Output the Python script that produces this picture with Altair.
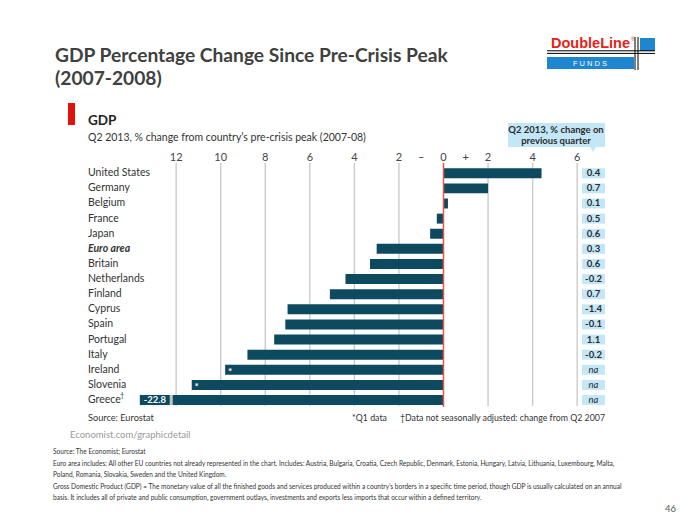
import altair as alt
import pandas as pd

# ---------------- data ----------------
countries = ["United States", "Germany", "Belgium", "France", "Japan", "Euro area",
             "Britain", "Netherlands", "Finland", "Cyprus", "Spain", "Portugal",
             "Italy", "Ireland", "Slovenia", "Greece"]
change_since_peak = [4.4, 2.0, 0.2, -0.3, -0.6, -3.0, -3.3, -4.4, -5.1, -7.0,
                     -7.1, -7.6, -8.8, -9.8, -11.3, -22.8]
quarter_change = ["0.4", "0.7", "0.1", "0.5", "0.6", "0.3", "0.6", "-0.2", "0.7",
                  "-1.4", "-0.1", "1.1", "-0.2", "na", "na", "na"]
q1_only = ["Ireland", "Slovenia"]
tick_values = [-12, -10, -8, -6, -4, -2, -1, 0, 1, 2, 4, 6]
tick_labels = ["12", "10", "8", "6", "4", "2", "–", "0", "+", "2", "4", "6"]
grid_values = [-12, -10, -8, -6, -4, -2, 2, 4, 6]

df = pd.DataFrame({"country": countries, "change": change_since_peak,
                   "q": quarter_change})
df["q1"] = df["country"].isin(q1_only)
df["lab"] = df["change"].map(lambda v: f"{v:.1f}")
ticks = pd.DataFrame({"v": tick_values, "lab": tick_labels})
grid = pd.DataFrame({"v": grid_values})
zero = pd.DataFrame({"v": [0]})
one = pd.DataFrame({"k": [0]})

FONT = "Lato"
TXT = "#333333"
BAR = "#0d4a5f"
LB = "#c3e7f7"

PX0, PPU = 443.5, 22.28
X = alt.Scale(domain=[-PX0 / PPU, (700 - PX0) / PPU], range=[0, 700], nice=False, zero=False)
Y = alt.Scale(domain=countries, range=[165.7, 407.6], paddingInner=0.34, paddingOuter=0.17)

def yenc():
    return alt.Y("country:N", scale=Y, axis=None, sort=countries)

# grid
grid_l = alt.Chart(grid).mark_rule(color="#cbcbcb", strokeWidth=1.4).encode(
    x=alt.X("v:Q", scale=X, axis=None), y=alt.value(163), y2=alt.value(406))

# bars (Greece shown with a broken bar)
bars = alt.Chart(df).transform_calculate(
    shown="max(datum.change, -13.63)", base="0"
).mark_bar(color=BAR).encode(
    x=alt.X("shown:Q", scale=X, axis=None), x2="base:Q", y=yenc())

brk = alt.Chart(df).transform_filter(alt.datum.country == "Greece").transform_calculate(
    b="-12.22").mark_tick(color="white", thickness=3, size=13).encode(
    x=alt.X("b:Q", scale=X, axis=None), y=yenc())

greece_lab = alt.Chart(df).transform_filter(alt.datum.country == "Greece").transform_calculate(
    shown="max(datum.change, -13.63)"
).mark_text(color="white", font=FONT, fontSize=9.5, fontWeight="bold", dx=15,
            align="center", baseline="middle").encode(
    x=alt.X("shown:Q", scale=X, axis=None), y=yenc(), text="lab:N")

stars = alt.Chart(df).transform_filter(alt.datum.q1 == True).mark_text(
    text="*", color="white", font=FONT, fontSize=10, fontWeight="bold", dx=5, dy=2,
    align="center", baseline="middle").encode(
    x=alt.X("change:Q", scale=X, axis=None), y=yenc())

zero_l = alt.Chart(zero).mark_rule(color="#e8554a", strokeWidth=1.5).encode(
    x=alt.X("v:Q", scale=X, axis=None), y=alt.value(163), y2=alt.value(407))

tick_l = alt.Chart(ticks).mark_text(font=FONT, fontSize=11, color="#444444",
                                    align="center", baseline="alphabetic").encode(
    x=alt.X("v:Q", scale=X, axis=None), y=alt.value(161), text="lab:N")

labels = alt.Chart(df).transform_filter(alt.datum.country != "Euro area").mark_text(
    font=FONT, fontSize=10.5, color=TXT, align="left", baseline="middle").encode(
    x=alt.value(88), y=yenc(), text="country:N")
euro = alt.Chart(df).transform_filter(alt.datum.country == "Euro area").mark_text(
    font=FONT, fontSize=10.5, color=TXT, fontStyle="italic", fontWeight="bold",
    align="left", baseline="middle").encode(x=alt.value(88), y=yenc(), text="country:N")
dagger = alt.Chart(df).transform_filter(alt.datum.country == "Greece").mark_text(
    text="†", font=FONT, fontSize=7.5, color=TXT, align="left", baseline="middle", dy=-4).encode(
    x=alt.value(120), y=yenc())

boxes = alt.Chart(df).mark_bar(color=LB).encode(
    x=alt.value(582), x2=alt.value(605), y=yenc())
vals = alt.Chart(df).transform_filter(alt.datum.q != "na").mark_text(
    font=FONT, fontSize=9.5, fontWeight="bold", color="#2a2a2a", align="center",
    baseline="middle").encode(x=alt.value(593.5), y=yenc(), text="q:N")
nas = alt.Chart(df).transform_filter(alt.datum.q == "na").mark_text(
    font=FONT, fontSize=9.5, fontStyle="italic", color="#2a2a2a", align="center",
    baseline="middle").encode(x=alt.value(593.5), y=yenc(), text="q:N")

def rect(x1, x2, y1, y2, color):
    return alt.Chart(one).mark_rect(color=color).encode(
        x=alt.value(x1), x2=alt.value(x2), y=alt.value(y1), y2=alt.value(y2))

def text(s, x, y, size, color=TXT, weight="normal", style="normal", align="left",
         font=FONT, lh=None):
    kw = dict(text=s, font=font, fontSize=size, color=color, fontWeight=weight,
              fontStyle=style, align=align, baseline="alphabetic")
    if lh is not None:
        kw["lineHeight"] = lh
    return alt.Chart(one).mark_text(**kw).encode(x=alt.value(x), y=alt.value(y))

def hline(x1, x2, y, color="black", w=1.0):
    return alt.Chart(one).mark_rule(color=color, strokeWidth=w).encode(
        x=alt.value(x1), x2=alt.value(x2), y=alt.value(y))

def vline(x, y1, y2, color="black", w=1.0):
    return alt.Chart(one).mark_rule(color=color, strokeWidth=w).encode(
        x=alt.value(x), y=alt.value(y1), y2=alt.value(y2))

header_box = rect(508, 605, 123, 147, LB)
pointer = alt.Chart(one).mark_point(shape="triangle-down", filled=True, color=LB,
                                    size=70, opacity=1).encode(
    x=alt.value(593), y=alt.value(148.5))
header_txt = text(["Q2 2013, % change on", "previous quarter"], 556, 133, 9.5,
                  color="#2a2a2a", weight="bold", align="center", lh=10.5)

decor = [
    rect(68, 75, 103, 125, "#e3120b"),
    text("GDP", 88, 125, 13.5, color="#222222", weight="bold"),
    text("Q2 2013, % change from country’s pre-crisis peak (2007-08)", 88, 141, 10.5),
    text("Source: Eurostat", 88, 421, 9.2),
    text("*Q1 data", 352, 421, 8.8),
    text("†Data not seasonally adjusted: change from Q2 2007", 605, 421, 8.8,
         align="right"),
    text("Economist.com/graphicdetail", 70, 438, 9.5, color="#9a9a9a"),
    text("GDP Percentage Change Since Pre-Crisis Peak", 55, 62, 19.2, color="#404040",
         weight="bold"),
    text("(2007-2008)", 55, 85, 19.2, color="#404040", weight="bold"),
    # logo
    text("DoubleLine", 551, 48, 14.5, color="#e2231a", weight="bold",
         font="Liberation Sans"),
    text("®", 631, 41, 5, color="#e2231a", font="Liberation Sans"),
    rect(640, 655, 38, 51, "#1e86cf"),
    rect(547, 634, 57, 69, "#1e86cf"),
    hline(547, 655, 50.8), hline(547, 655, 53.4),
    vline(635, 37, 70), vline(638, 37, 70),
    text("F      U      N      D      S", 590, 66, 7.5, color="white", align="center",
         font="Liberation Sans"),
    # notes
    text("Source: The Economist; Eurostat", 53, 454, 6.55),
    text("Euro area includes: All other EU countries not already represented in the chart. Includes: "
         "Austria, Bulgaria, Croatia, Czech Republic, Denmark, Estonia, Hungary, Latvia, Lithuania, "
         "Luxembourg, Malta,", 53, 466, 6.55),
    text("Poland, Romania, Slovakia, Sweden and the United Kingdom.", 53, 477, 6.55),
    text("Gross Domestic Product  (GDP) = The monetary value of all the finished goods and services "
         "produced within a country’s borders in a specific time period, though GDP is usually "
         "calculated on an annual", 53, 489, 6.55),
    text("basis. It includes all of private and public consumption, government outlays, investments "
         "and exports less imports that occur within a defined territory.", 53, 500, 6.55),
    text("46", 665, 512, 9.5, color="#595959"),
]

chart = alt.layer(
    grid_l, bars, brk, greece_lab, stars, zero_l, tick_l, labels, euro, dagger,
    boxes, vals, nas, header_box, pointer, header_txt, *decor
).properties(
    width=700, height=525, autosize=alt.AutoSizeParams(type="none"), padding=0,
    background="white"
).configure_view(stroke=None)

chart.save("out.html", embed_options={"renderer": "svg", "actions": False})
